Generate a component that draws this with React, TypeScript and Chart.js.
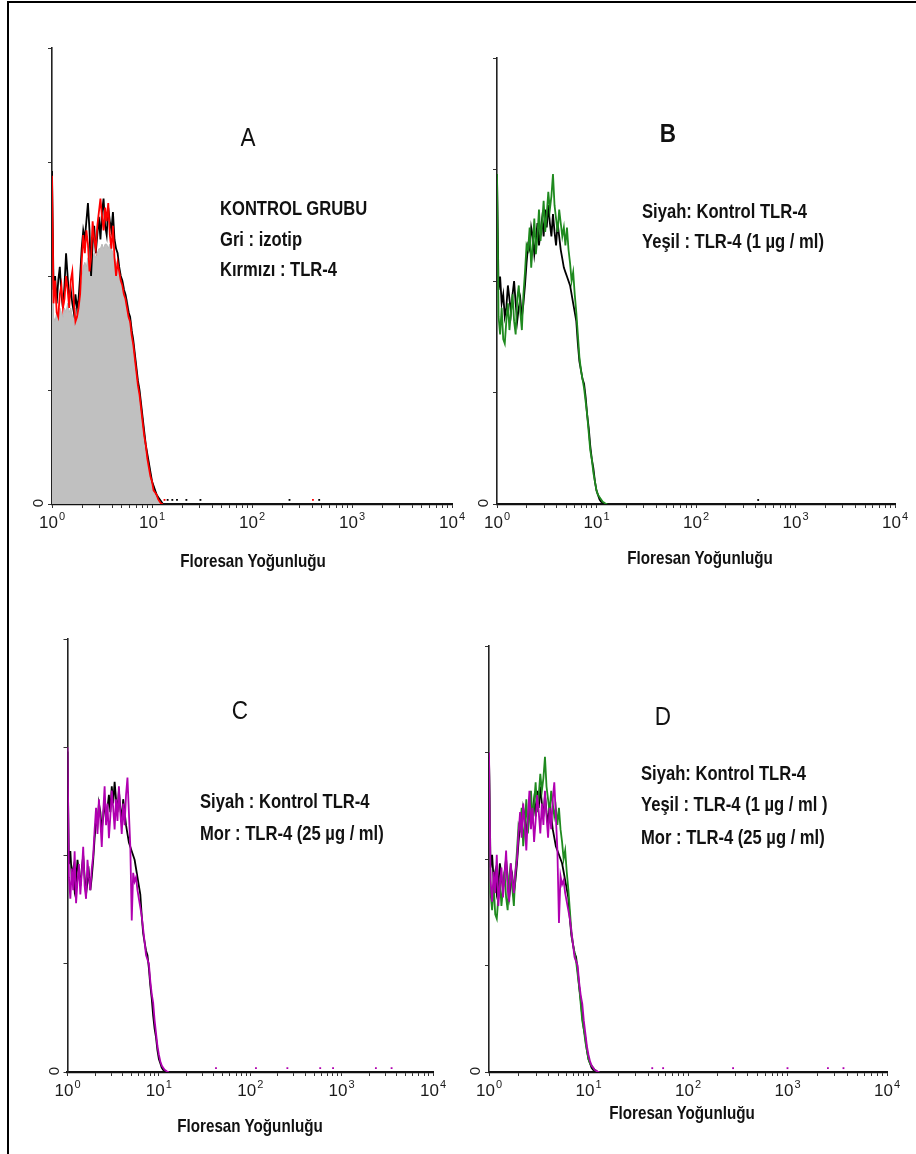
import React, { useEffect, useRef } from "react";
import { Chart, registerables } from "chart.js";
Chart.register(...registerables);

const W = 916;
const H = 1154;
const CH_PER_DECADE = 64;

// ---- histogram values (percent of y-axis top tick), one per channel (64 channels / decade) ----
const aGray = [70,
  41, 40, 42, 41, 43, 42, 41, 43, 42, 44, 42, 43, 41, 42, 43, 41, 42,
  45, 49, 52,
  53, 52, 54, 53, 52, 54, 55, 54, 55, 56, 56,
  57, 56, 57, 57, 56, 57, 56,
  55, 54, 53, 52, 51,
  50, 49, 48, 46, 45, 43, 41, 39, 36, 33, 30, 27, 25, 22, 19, 16, 13, 11, 9, 7, 5, 4, 3, 2, 1.5, 1, 0.5, 0];

const aBlack = [73,
  47, 50, 44, 49, 52, 46, 43, 48, 55, 50, 45, 47, 44, 42, 46, 43, 45,
  50, 56, 60,
  58, 62, 66, 60, 50, 57, 61, 55, 59, 63, 58, 64, 67, 61, 59, 65, 62, 60, 64, 58, 56, 55, 52,
  50, 49, 47, 46, 44, 42, 41, 38, 36, 33, 30, 27, 25, 22, 19, 16, 13, 11, 9, 7, 5, 4, 3, 2, 1.5, 1, 0.5, 0];

const aRed = [72,
  44, 49, 42, 41, 46, 48, 43, 45, 50, 47, 43, 49, 51, 44, 40, 41, 43,
  46, 53, 59,
  55, 60, 57, 51, 54, 62, 58, 56, 61, 64, 67, 63, 60, 65, 62, 66, 59, 56, 61, 54, 50, 53, 51,
  49, 48, 46, 45, 43, 41, 40, 37, 35, 32, 29, 26, 24, 21, 18, 15, 13, 10, 8, 6, 5, 3, 2.5, 2, 1, 0.5, 0, 0];

const ctrlBlack = [74,
  48, 51, 45, 47, 42, 44, 49, 46, 43, 47, 50, 45, 41, 44, 46, 42, 45,
  49, 54, 58,
  57, 62, 60, 56, 59, 63, 58, 61, 64, 60, 66, 62, 67, 63, 60, 65, 61, 58, 63, 60,
  57, 55, 53, 52, 51, 50, 49, 47, 45, 43, 41, 36, 32, 30, 28, 27, 24, 20, 17, 13, 10, 8, 5, 3, 2, 1, 0.5, 0.3, 0, 0, 0];

const green = [74,
  42, 38, 44, 37, 36, 41, 45, 39, 43, 47, 41, 38, 46, 49, 43, 39, 47,
  52, 58, 57,
  62, 53, 58, 64, 56, 60, 66, 59, 63, 68, 61, 65, 70, 66, 69, 74, 67, 64, 61, 66,
  63, 60, 62, 58, 62, 57, 54, 50, 52, 47, 43, 38, 33, 30, 28, 26, 23, 20, 16, 12, 10, 7, 5, 3, 2, 1.5, 1, 0.5, 0.3, 0, 0];

const purple = [75,
  45, 40, 47, 42, 51, 39, 44, 48, 41, 46, 52, 43, 40, 49, 45, 42, 47,
  50, 56, 61,
  55, 63, 58, 52, 60, 66, 57, 62, 54, 59, 65, 61, 56, 63, 58, 66, 60, 55, 62, 57, 64, 68, 60, 52,
  35, 46, 44, 45, 42, 40, 38, 36, 33, 30, 27, 26, 25, 21, 18, 16, 12, 9, 6, 4, 2.5, 1.5, 1, 0.5, 0.3, 0, 0];

// small isolated counts lying along the x axis (channel numbers)
const aBlackBlips = [74, 77, 80, 86, 95, 152, 171];
const aRedBlips = [72, 167];
const bBlackBlips = [168];
const cPurpleBlips = [104, 132, 154, 177, 186, 216, 227];
const dPurpleBlips = [105, 112, 157, 192, 218, 228];

const X_TICK_EXPONENTS = [0, 1, 2, 3, 4];
const Y_MAX = 100;
const Y_STEP = 25;

const BLACK = "#000000";
const RED = "#ff0000";
const GREEN = "#1f8a1f";
const PURPLE = "#b000b0";
const GRAY = "#c0c0c0";

type Series = { values: number[]; color: string; fill?: boolean };
type Blips = { ch: number[]; color: string };
type PanelCfg = {
  left: number; right: number; top: number; bottom: number;
  series: Series[]; blips: Blips[];
};

const PANELS: PanelCfg[] = [
  { left: 52, right: 452, top: 48, bottom: 504,
    series: [
      { values: aGray, color: GRAY, fill: true },
      { values: aBlack, color: BLACK },
      { values: aRed, color: RED },
    ],
    blips: [{ ch: aBlackBlips, color: BLACK }, { ch: aRedBlips, color: RED }] },
  { left: 497, right: 895, top: 58, bottom: 504,
    series: [
      { values: ctrlBlack, color: BLACK },
      { values: green, color: GREEN },
    ],
    blips: [{ ch: bBlackBlips, color: BLACK }] },
  { left: 67.5, right: 433, top: 639, bottom: 1072,
    series: [
      { values: ctrlBlack, color: BLACK },
      { values: purple, color: PURPLE },
    ],
    blips: [{ ch: cPurpleBlips, color: PURPLE }] },
  { left: 489, right: 887, top: 646, bottom: 1072,
    series: [
      { values: ctrlBlack, color: BLACK },
      { values: green, color: GREEN },
      { values: purple, color: PURPLE },
    ],
    blips: [{ ch: dPurpleBlips, color: PURPLE }] },
];

const chToX = (ch: number) => Math.pow(10, ch / CH_PER_DECADE);

const LOG_TICKS: number[] = [];
for (let e = 0; e < 4; e++) {
  for (let m = 1; m < 10; m++) LOG_TICKS.push(m * Math.pow(10, e));
}
LOG_TICKS.push(10000);

const LBL_FONT = "'Liberation Sans', Arial, sans-serif";

const axisLabels = {
  id: "axisLabels",
  afterDraw(chart: any) {
    const { ctx, chartArea } = chart;
    const xs = chart.scales.x;
    const y0 = chart.scales.y.getPixelForValue(0);
    ctx.save();
    ctx.fillStyle = "#1a1a1a";
    // rotated zero on the y axis
    ctx.save();
    ctx.translate(chartArea.left - 13, y0 - 1);
    ctx.rotate(-Math.PI / 2);
    ctx.font = `15px ${LBL_FONT}`;
    ctx.textAlign = "center";
    ctx.textBaseline = "middle";
    ctx.fillText("0", 0, 0);
    ctx.restore();
    // decade labels 10^k
    ctx.textAlign = "left";
    ctx.textBaseline = "alphabetic";
    X_TICK_EXPONENTS.forEach((k) => {
      const px = xs.getPixelForValue(Math.pow(10, k));
      ctx.font = `17px ${LBL_FONT}`;
      const w1 = ctx.measureText("10").width;
      ctx.font = `11px ${LBL_FONT}`;
      const w2 = ctx.measureText(String(k)).width;
      const x0 = px - (w1 + w2 + 1) / 2;
      ctx.font = `17px ${LBL_FONT}`;
      ctx.fillText("10", x0, y0 + 24);
      ctx.font = `11px ${LBL_FONT}`;
      ctx.fillText(String(k), x0 + w1 + 1, y0 + 16);
    });
    ctx.restore();
  },
};

function Panel({ cfg }: { cfg: PanelCfg }) {
  const ref = useRef<HTMLCanvasElement | null>(null);
  useEffect(() => {
    if (!ref.current) return;
    const n = cfg.series.length;
    const datasets: any[] = cfg.series.map((s, i) => ({
      data: s.values.map((v, ch) => ({ x: chToX(ch), y: v })),
      borderColor: s.fill ? "#b8b8b8" : s.color,
      backgroundColor: s.color,
      borderWidth: s.fill ? 1 : 1.8,
      fill: s.fill ? "origin" : false,
      pointRadius: 0,
      tension: 0,
      order: n - i + 5,
    }));
    cfg.blips.forEach((b) => {
      datasets.push({
        data: b.ch.map((ch) => ({ x: chToX(ch), y: 0.9 })),
        showLine: false,
        pointRadius: 1.3,
        pointStyle: "rect",
        pointBackgroundColor: b.color,
        pointBorderWidth: 0,
        order: 1,
      });
    });
    const chart = new Chart(ref.current, {
      type: "line",
      data: { datasets },
      plugins: [axisLabels],
      options: {
        responsive: false,
        animation: false,
        devicePixelRatio: 1,
        events: [],
        layout: {
          padding: { left: cfg.left, top: cfg.top, right: W - cfg.right, bottom: H - cfg.bottom },
        },
        plugins: { legend: { display: false }, tooltip: { enabled: false } },
        scales: {
          x: {
            type: "logarithmic",
            min: 1,
            max: 10000,
            afterFit: (s: any) => { s.height = 0; },
            afterBuildTicks: (s: any) => { s.ticks = LOG_TICKS.map((v) => ({ value: v })); },
            grid: { drawOnChartArea: false, drawTicks: true, tickLength: 4, color: "#333", lineWidth: 1 },
            border: { display: true, color: "#111", width: 2.2 },
            ticks: { display: false, autoSkip: false },
          },
          y: {
            type: "linear",
            min: 0,
            max: Y_MAX,
            afterFit: (s: any) => { s.width = 0; },
            grid: { drawOnChartArea: false, drawTicks: true, tickLength: 4, color: "#333", lineWidth: 1 },
            border: { display: true, color: "#222", width: 1.6 },
            ticks: { stepSize: Y_STEP, callback: () => "" },
          },
        },
      } as any,
    });
    return () => chart.destroy();
  }, [cfg]);
  return (
    <canvas
      ref={ref}
      width={W}
      height={H}
      style={{ position: "absolute", left: 0, top: 0, width: W, height: H, pointerEvents: "none" }}
    />
  );
}

const FONT = "'Liberation Sans', Arial, sans-serif";

type Txt = { text: string; x: number; y: number; size: number; bold: boolean; sx: number; center?: boolean };

const TEXTS: Txt[] = [
  { text: "A", x: 248, y: 137, size: 25, bold: false, sx: 0.9, center: true },
  { text: "KONTROL GRUBU", x: 220, y: 207, size: 21, bold: true, sx: 0.79 },
  { text: "Gri : izotip", x: 220, y: 238, size: 21, bold: true, sx: 0.79 },
  { text: "Kırmızı : TLR-4", x: 220, y: 268, size: 21, bold: true, sx: 0.79 },
  { text: "B", x: 668, y: 133, size: 25, bold: true, sx: 0.9, center: true },
  { text: "Siyah: Kontrol TLR-4", x: 642, y: 210, size: 21, bold: true, sx: 0.79 },
  { text: "Yeşil : TLR-4 (1 µg / ml)", x: 642, y: 240, size: 21, bold: true, sx: 0.79 },
  { text: "C", x: 240, y: 710, size: 25, bold: false, sx: 0.9, center: true },
  { text: "Siyah : Kontrol TLR-4", x: 200, y: 800, size: 21, bold: true, sx: 0.79 },
  { text: "Mor : TLR-4 (25 µg / ml)", x: 200, y: 832, size: 21, bold: true, sx: 0.79 },
  { text: "D", x: 663, y: 716, size: 25, bold: false, sx: 0.9, center: true },
  { text: "Siyah: Kontrol TLR-4", x: 641, y: 772, size: 21, bold: true, sx: 0.79 },
  { text: "Yeşil : TLR-4 (1 µg / ml )", x: 641, y: 803, size: 21, bold: true, sx: 0.79 },
  { text: "Mor : TLR-4 (25 µg / ml)", x: 641, y: 836, size: 21, bold: true, sx: 0.79 },
  { text: "Floresan Yoğunluğu", x: 253, y: 560, size: 19, bold: true, sx: 0.8, center: true },
  { text: "Floresan Yoğunluğu", x: 700, y: 557, size: 19, bold: true, sx: 0.8, center: true },
  { text: "Floresan Yoğunluğu", x: 250, y: 1125, size: 19, bold: true, sx: 0.8, center: true },
  { text: "Floresan Yoğunluğu", x: 682, y: 1112, size: 19, bold: true, sx: 0.8, center: true },
];

export default function App() {
  return (
    <div style={{ position: "absolute", left: 0, top: 0, width: W, height: H, background: "#fff", overflow: "hidden" }}>
      <div
        style={{
          position: "absolute", left: 7, top: 1, width: W - 7, height: H - 1,
          borderTop: "2px solid #000", borderLeft: "2px solid #000", boxSizing: "border-box",
        }}
      />
      {PANELS.map((p, i) => (
        <Panel key={i} cfg={p} />
      ))}
      {TEXTS.map((t, i) => (
        <div
          key={i}
          style={{
            position: "absolute",
            left: t.x,
            top: t.y - t.size / 2,
            fontFamily: FONT,
            fontSize: t.size,
            lineHeight: `${t.size}px`,
            fontWeight: t.bold ? 700 : 400,
            color: "#111",
            whiteSpace: "nowrap",
            transformOrigin: "0 50%",
            transform: t.center ? `scaleX(${t.sx}) translateX(-50%)` : `scaleX(${t.sx})`,
          }}
        >
          {t.text}
        </div>
      ))}
    </div>
  );
}
